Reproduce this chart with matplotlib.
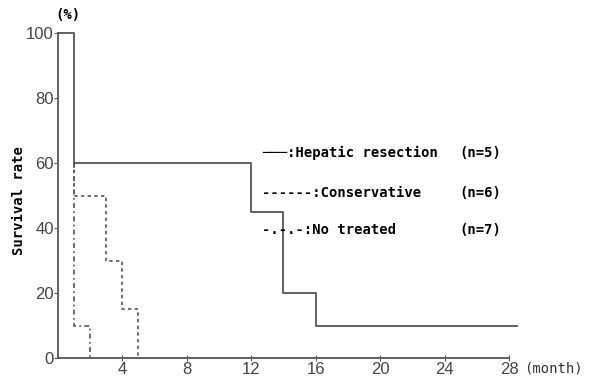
import numpy as np
import matplotlib
matplotlib.use("Agg")
import matplotlib.pyplot as plt

# survival step data (month, %)
hep_t = [0, 1, 12, 14, 16, 28.5]
hep_s = [100, 60, 45, 20, 10, 10]
con_t = [1, 3, 4, 5]
con_s = [50, 30, 15, 0]
not_t = [1, 2]
not_s = [10, 0]

xticks = [4, 8, 12, 16, 20, 24, 28]
yticks = [0, 20, 40, 60, 80, 100]

legend_keys = ["\u2500\u2500\u2500", "------", "-.-.-"]
legend_names = [":Hepatic resection", ":Conservative", ":No treated"]
legend_n = ["(n=5)", "(n=6)", "(n=7)"]

lc = "#555555"
mono = "DejaVu Sans Mono"
narrow = ["Liberation Sans Narrow", "Liberation Sans", "DejaVu Sans"]

fig = plt.figure(figsize=(5.91, 3.79), dpi=100)
ax = fig.add_axes([0.098, 0.0554, 0.777, 0.8575])

# hepatic resection (solid)
ax.step(hep_t, hep_s, where="post", color=lc, lw=1.3, clip_on=False)

# conservative (dotted), starts from 60 at month 1
ct = [con_t[0]] + con_t
cs = [60] + con_s
ax.step(ct, cs, where="post", color=lc, lw=1.2, ls=(0, (2, 2)), clip_on=False)

# no treated (dash-dot)
nt = [not_t[0]] + not_t
ns = [60] + not_s
ax.step(nt, ns, where="post", color=lc, lw=1.2, ls=(0, (3, 2, 1, 2)), clip_on=False)

ax.set_xlim(0, 28.5)
ax.set_ylim(0, 100)
ax.spines["top"].set_visible(False)
ax.spines["right"].set_visible(False)
ax.spines["bottom"].set_bounds(0, 28)
for s in ["left", "bottom"]:
    ax.spines[s].set_color(lc)
    ax.spines[s].set_linewidth(1.3)

ax.set_xticks(xticks)
ax.set_yticks(yticks)
ax.tick_params(axis="x", direction="inout", length=4, color=lc, labelsize=12,
               labelcolor="#444444", pad=1)
ax.tick_params(axis="y", direction="out", length=3, color=lc, labelsize=12,
               labelcolor="#444444", pad=0)
for lab in ax.get_xticklabels() + ax.get_yticklabels():
    lab.set_family(narrow)

fig.text(0.032, 0.47, "Survival rate", family=mono, fontsize=10, fontweight="bold",
         rotation=90, ha="center", va="center")
fig.text(0.115, 0.96, "(%)", family=mono, fontsize=10, fontweight="bold", ha="center", va="center")
fig.text(0.887, 0.027, "(month)", family=mono, fontsize=10, color="#333333", ha="left", va="center")

ys = [0.597, 0.49, 0.392]
for k, name, n, y in zip(legend_keys, legend_names, legend_n, ys):
    fig.text(0.443, y, k + name, family=mono, fontsize=10, fontweight="bold",
             ha="left", va="center")
    fig.text(0.777, y, n, family=mono, fontsize=10, fontweight="bold",
             ha="left", va="center")

fig.savefig("out.png", dpi=100)
